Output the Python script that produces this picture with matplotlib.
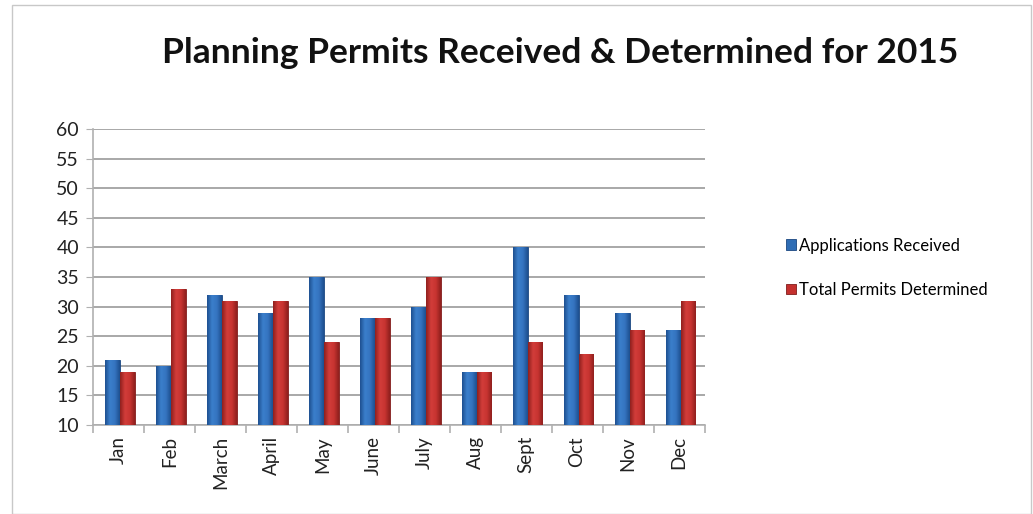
import matplotlib
matplotlib.use("Agg")
import matplotlib.pyplot as plt
import numpy as np
from matplotlib.patches import Rectangle
from matplotlib.colors import LinearSegmentedColormap

months = ["Jan", "Feb", "March", "April", "May", "June", "July", "Aug", "Sept", "Oct", "Nov", "Dec"]
applications = [21, 20, 32, 29, 35, 28, 30, 19, 40, 32, 29, 26]
permits = [19, 33, 31, 31, 24, 28, 35, 19, 24, 22, 26, 31]

plt.rcParams['font.family'] = ['Lato', 'DejaVu Sans']

fig = plt.figure(figsize=(10.33, 5.14), dpi=100)
fig.patches.append(Rectangle((0.012, 0.0), 0.986, 0.99, transform=fig.transFigure,
                             fill=False, edgecolor="#c8c8c8", linewidth=1.0))
ax = fig.add_axes([0.090, 0.173, 0.592, 0.576])

x = np.arange(len(months))
w = 0.29
off = 0.03
blue = "#2f6db5"
red = "#c4302e"
blue_cmap = LinearSegmentedColormap.from_list("b", ["#1d4f8f", "#3b7fcc", "#3574c0", "#1d4f8f"])
red_cmap = LinearSegmentedColormap.from_list("r", ["#8f1f1d", "#d23d3a", "#c83431", "#8f1f1d"])
grad = np.linspace(0, 1, 64).reshape(1, -1)

def gradient_bars(bars, cmap):
    for b in bars:
        bx, by = b.get_x(), b.get_y()
        bw, bh = b.get_width(), b.get_height()
        im = ax.imshow(grad, cmap=cmap, aspect="auto", extent=(bx, bx + bw, by, by + bh),
                       zorder=3.1, interpolation="bicubic")
        im.set_clip_path(b)

b1 = ax.bar(x - w / 2 + off, [a - 10 for a in applications], w, bottom=10, color=blue,
            edgecolor="#1a4680", linewidth=0.6, label="Applications Received", zorder=3)
b2 = ax.bar(x + w / 2 + off, [p - 10 for p in permits], w, bottom=10, color=red,
            edgecolor="#801c1b", linewidth=0.6, label="Total Permits Determined", zorder=3)
gradient_bars(b1, blue_cmap)
gradient_bars(b2, red_cmap)

ax.set_xlim(-0.5, len(months) - 0.5)
ax.set_ylim(10, 60)
ax.set_yticks(range(10, 61, 5))
ax.yaxis.grid(True, color="#9a9a9a", linewidth=1.2, zorder=0)
ax.set_axisbelow(True)
for s in ["top", "right"]:
    ax.spines[s].set_visible(False)
ax.spines["left"].set_color("#b0b0b0")
ax.spines["bottom"].set_color("#b0b0b0")
ax.spines["left"].set_linewidth(1.2)
ax.spines["bottom"].set_linewidth(1.2)

ax.set_xticks(x)
ax.set_xticklabels(months, rotation=90, fontsize=13.5, color="#222222")
ax.set_xticks(np.arange(-0.5, len(months), 1), minor=True)
ax.tick_params(axis="x", which="major", length=0, pad=8)
ax.tick_params(axis="x", which="minor", length=6, color="#b0b0b0", width=1.2)
ax.tick_params(axis="y", length=5, color="#b0b0b0", labelsize=14, labelcolor="#222222", pad=5)

fig.text(0.542, 0.897, "Planning Permits Received & Determined for 2015", ha="center", va="center",
         fontsize=25.5, fontweight="bold", color="#111111")

fig.legend(loc="center left", bbox_to_anchor=(0.746, 0.479), frameon=False, fontsize=12,
           handlelength=0.6, handleheight=0.6, handletextpad=0.2, labelspacing=1.7)

fig.savefig("out.png", dpi=100)
